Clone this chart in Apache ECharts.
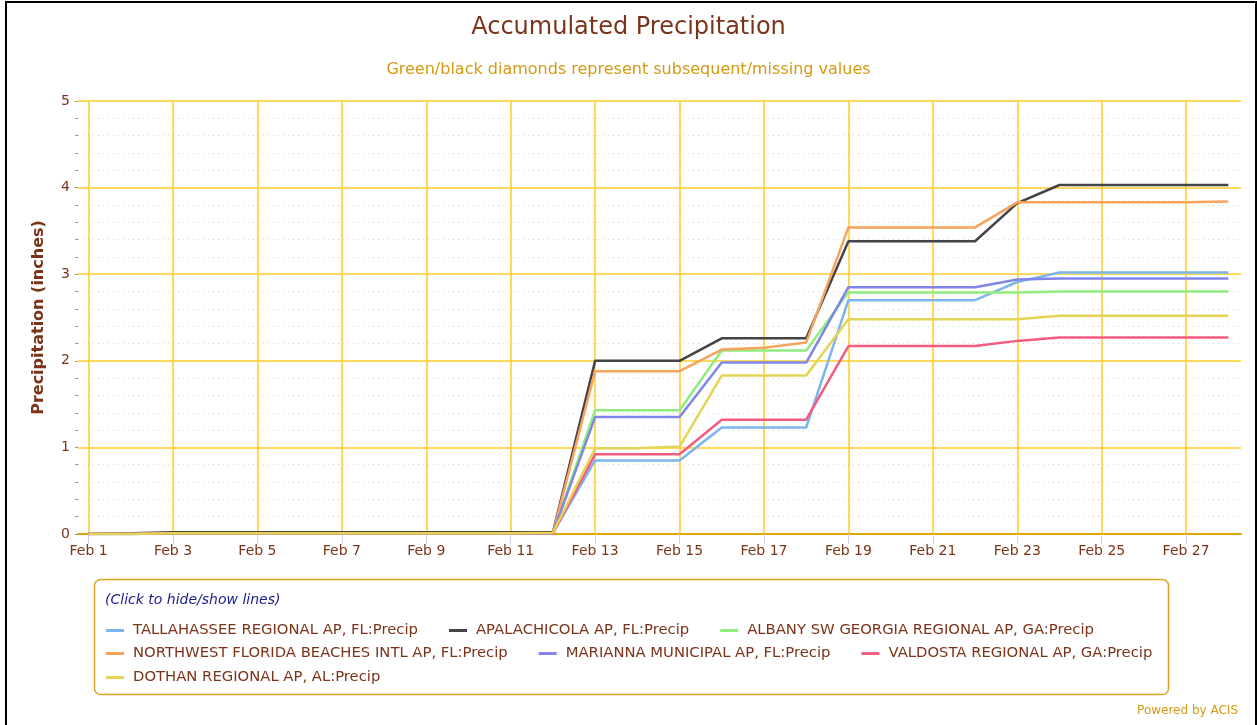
<!DOCTYPE html>
<html>
<head>
<meta charset="utf-8">
<script src="https://cdn.jsdelivr.net/npm/echarts@6/dist/echarts.min.js"></script>
<style>
html,body{margin:0;padding:0;background:#fff;}
#wrap{position:relative;width:1257px;height:725px;overflow:hidden;}
#chart{position:absolute;left:0;top:0;width:1257px;height:725px;}
#frame{position:absolute;left:5px;top:1px;width:1252px;height:800px;box-sizing:border-box;border:2px solid #000;pointer-events:none;}
</style>
</head>
<body>
<div id="wrap"><div id="chart"></div><div id="frame"></div></div>
<script>
// Day of month (February)
const days = [1,2,3,4,5,6,7,8,9,10,11,12,13,14,15,16,17,18,19,20,21,22,23,24,25,26,27,28];
const xTickDays = [1,3,5,7,9,11,13,15,17,19,21,23,25,27];
const yTicks = [0,1,2,3,4,5];

const seriesNames = [
  'TALLAHASSEE REGIONAL AP, FL:Precip',
  'APALACHICOLA AP, FL:Precip',
  'ALBANY SW GEORGIA REGIONAL AP, GA:Precip',
  'NORTHWEST FLORIDA BEACHES INTL AP, FL:Precip',
  'MARIANNA MUNICIPAL AP, FL:Precip',
  'VALDOSTA REGIONAL AP, GA:Precip',
  'DOTHAN REGIONAL AP, AL:Precip'
];
const seriesColors = ['#7cb5ec','#434348','#90ed7d','#f7a35c','#8085e9','#f15c80','#e4d354'];

const tallahassee = [0,0,0.01,0.01,0.01,0.01,0.01,0.01,0.01,0.01,0.01,0.01,0.85,0.85,0.85,1.23,1.23,1.23,2.70,2.70,2.70,2.70,2.91,3.02,3.02,3.02,3.02,3.02];
const apalachicola = [0,0.01,0.02,0.02,0.02,0.02,0.02,0.02,0.02,0.02,0.02,0.02,2.00,2.00,2.00,2.26,2.26,2.26,3.38,3.38,3.38,3.38,3.82,4.03,4.03,4.03,4.03,4.03];
const albany = [0,0,0.01,0.01,0.01,0.01,0.01,0.01,0.01,0.01,0.01,0.01,1.43,1.43,1.43,2.12,2.12,2.12,2.79,2.79,2.79,2.79,2.79,2.80,2.80,2.80,2.80,2.80];
const northwest = [0,0,0.01,0.01,0.01,0.01,0.01,0.01,0.01,0.01,0.01,0.01,1.88,1.88,1.88,2.13,2.15,2.21,3.54,3.54,3.54,3.54,3.83,3.83,3.83,3.83,3.83,3.84];
const marianna = [0,0,0.01,0.01,0.01,0.01,0.01,0.01,0.01,0.01,0.01,0.01,1.35,1.35,1.35,1.98,1.98,1.98,2.85,2.85,2.85,2.85,2.94,2.95,2.95,2.95,2.95,2.95];
const valdosta = [0,0,0.01,0.01,0.01,0.01,0.01,0.01,0.01,0.01,0.01,0.01,0.92,0.92,0.92,1.32,1.32,1.32,2.17,2.17,2.17,2.17,2.23,2.27,2.27,2.27,2.27,2.27];
const dothan = [0,0,0.01,0.01,0.01,0.01,0.01,0.01,0.01,0.01,0.01,0.015,0.99,0.99,1.01,1.83,1.83,1.83,2.48,2.48,2.48,2.48,2.48,2.52,2.52,2.52,2.52,2.52];

const allValues = [tallahassee, apalachicola, albany, northwest, marianna, valdosta, dothan];

const BROWN = '#7a3419';
const GOLD = '#FFCC26';
const FONT = 'DejaVu Sans';

const chart = echarts.init(document.getElementById('chart'), null, {renderer:'canvas'});

const series = seriesNames.map((name, i) => ({
  name: name,
  type: 'line',
  symbol: 'none',
  color: seriesColors[i],
  lineStyle: {width: 2.5, color: seriesColors[i]},
  data: days.map((d, j) => [d, allValues[i][j]])
}));

const legendBase = {
  orient: 'horizontal',
  left: 106,
  padding: 0,
  icon: 'rect',
  itemWidth: 18,
  itemHeight: 3,
  textStyle: {color: BROWN, fontSize: 14.8, fontFamily: FONT, padding: [0,0,0,4]},
  selectedMode: true
};

const option = {
  animation: false,
  backgroundColor: '#fff',
  title: [{
    text: 'Accumulated Precipitation',
    left: 'center', top: 11,
    textStyle: {color: BROWN, fontSize: 24, fontWeight: 'normal', fontFamily: FONT}
  }, {
    text: 'Green/black diamonds represent subsequent/missing values',
    left: 'center', top: 57,
    textStyle: {color: '#D49A12', fontSize: 16, fontWeight: 'normal', fontFamily: FONT}
  }],
  grid: {left: 78, right: 16, top: 101, bottom: 191, containLabel: false},
  legend: [
    Object.assign({}, legendBase, {top: 623, itemGap: 31, data: seriesNames.slice(0,3)}),
    Object.assign({}, legendBase, {top: 646, itemGap: 31, data: seriesNames.slice(3,6)}),
    Object.assign({}, legendBase, {top: 670, itemGap: 31, data: seriesNames.slice(6,7)})
  ],
  xAxis: {
    type: 'value',
    min: 0.75, max: 28.3,
    axisLine: {show: true, lineStyle: {color: '#E0A500', width: 2}},
    axisTick: {show: true, customValues: xTickDays, length: 10, lineStyle: {color: '#ccd6eb', width: 1}},
    axisLabel: {customValues: xTickDays, color: BROWN, fontSize: 14, fontFamily: FONT, margin: 10,
      formatter: v => 'Feb ' + v},
    splitLine: {show: true, lineStyle: {color: GOLD, width: 1.5}}
  },
  yAxis: {
    type: 'value',
    min: yTicks[0], max: yTicks[yTicks.length-1], interval: 1,
    name: 'Precipitation (inches)',
    nameLocation: 'middle', nameGap: 31, nameRotate: 90,
    nameTextStyle: {color: BROWN, fontSize: 16, fontWeight: 'bold', fontFamily: FONT},
    axisLine: {show: false},
    axisTick: {show: true, length: 3, lineStyle: {color: '#999'}},
    minorTick: {show: true, splitNumber: 5, length: 3, lineStyle: {color: '#999'}},
    axisLabel: {color: BROWN, fontSize: 14, fontFamily: FONT, margin: 8},
    splitLine: {show: true, lineStyle: {color: GOLD, width: 1.5}},
    minorSplitLine: {show: true, lineStyle: {color: '#d6d6d6', width: 1, type: [1,4]}}
  },
  graphic: [
    {type: 'rect', left: 92, top: 577, z: -1,
      shape: {width: 1074, height: 115, r: 6},
      style: {fill: 'none', stroke: '#D9A22A', lineWidth: 1.5}},
    {type: 'text', left: 105, top: 593,
      style: {text: '(Click to hide/show lines)', fill: '#1c1c8c', font: 'italic 14px "DejaVu Sans"'}},
    {type: 'text', right: 19, top: 705,
      style: {text: 'Powered by ACIS', fill: '#D49A12', font: '12px "DejaVu Sans"'}}
  ],
  series: series
};
chart.setOption(option);
</script>
</body>
</html>
